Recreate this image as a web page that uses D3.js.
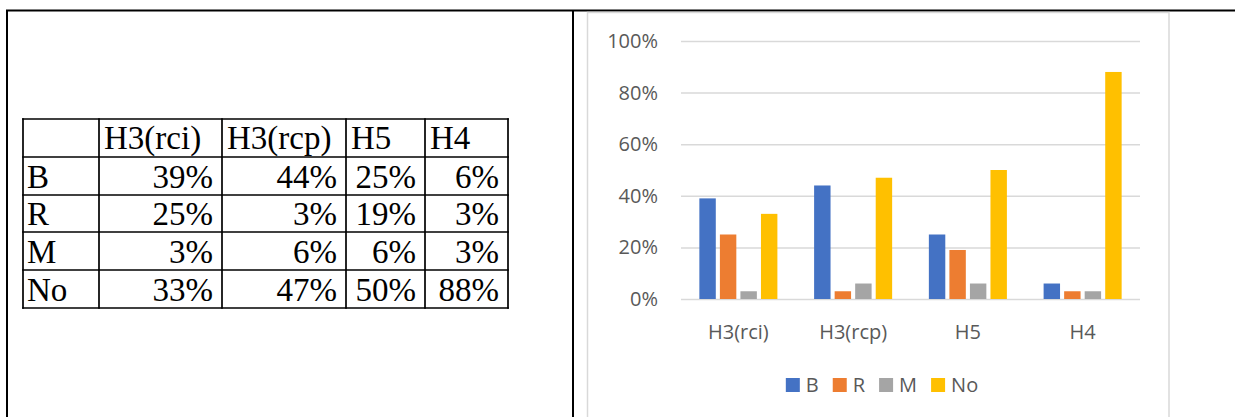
<!DOCTYPE html>
<html>
<head>
<meta charset="utf-8">
<script src="https://cdn.jsdelivr.net/npm/d3@7"></script>
<style>
  html, body { margin: 0; padding: 0; background: #fff; }
  svg { display: block; }
</style>
</head>
<body>
<svg id="page" width="1235" height="417"></svg>
<script>
// Categories, series and tick values
const categories = ["H3(rci)", "H3(rcp)", "H5", "H4"];
const seriesNames = ["B", "R", "M", "No"];
const valuesB  = [39, 44, 25, 6];
const valuesR  = [25, 3, 19, 3];
const valuesM  = [3, 6, 6, 3];
const valuesNo = [33, 47, 50, 88];
const yTicks = [0, 20, 40, 60, 80, 100];
const tickLabels = ["0%", "20%", "40%", "60%", "80%", "100%"];
const seriesColors = ["#4472C4", "#ED7D31", "#A5A5A5", "#FFC000"];

const seriesValues = [valuesB, valuesR, valuesM, valuesNo];
const rows = seriesNames.map((name, i) => ({ name, values: seriesValues[i], color: seriesColors[i] }));

const svg = d3.select("#page");

// ---- Outer two-cell layout frame ----
const frame = svg.append("g").attr("stroke", "#000").attr("stroke-width", 2);
frame.append("line").attr("x1", 6).attr("x2", 1235).attr("y1", 10.5).attr("y2", 10.5);
frame.append("line").attr("x1", 7).attr("x2", 7).attr("y1", 10).attr("y2", 417);
frame.append("line").attr("x1", 573).attr("x2", 573).attr("y1", 10).attr("y2", 417);

// ---- Data table (left cell) ----
const colEdges = [23, 99, 222, 346, 425, 508];
const rowEdges = [119, 157, 195, 232, 270, 308];
const table = svg.append("g")
  .attr("font-family", "'Liberation Serif', 'Times New Roman', serif")
  .attr("font-size", 33)
  .attr("fill", "#000");

const fmtPct = v => v + "%";
// header
categories.forEach((c, j) => {
  table.append("text")
    .attr("x", colEdges[j + 1] + 5)
    .attr("y", rowEdges[1] - 8)
    .text(c);
});
rows.forEach((r, i) => {
  const base = rowEdges[i + 2] - 7;
  table.append("text").attr("x", colEdges[0] + 4).attr("y", base).text(r.name);
  r.values.forEach((v, j) => {
    table.append("text")
      .attr("x", colEdges[j + 2] - 9)
      .attr("y", base)
      .attr("text-anchor", "end")
      .text(fmtPct(v));
  });
});
const grid = table.append("g").attr("stroke", "#000").attr("stroke-width", 1.7);
rowEdges.forEach(y => grid.append("line")
  .attr("x1", colEdges[0] - 0.85).attr("x2", colEdges[colEdges.length - 1] + 0.85)
  .attr("y1", y).attr("y2", y));
colEdges.forEach(x => grid.append("line")
  .attr("x1", x).attr("x2", x)
  .attr("y1", rowEdges[0] - 0.85).attr("y2", rowEdges[rowEdges.length - 1] + 0.85));

// ---- Chart area (right cell) ----
svg.append("rect")
  .attr("x", 587.5).attr("y", 12.5)
  .attr("width", 581.5).attr("height", 420)
  .attr("fill", "#fff")
  .attr("stroke", "#d9d9d9").attr("stroke-width", 1.5);

const plot = { left: 681, right: 1140, top: 41, bottom: 299 };

const y = d3.scaleLinear().domain([0, 100]).range([plot.bottom, plot.top]);
const x0 = d3.scaleBand().domain(categories).range([plot.left, plot.right]).padding(0);
const bw = x0.bandwidth();
const x1 = d3.scaleBand().domain(seriesNames)
  .range([bw * 0.16, bw * 0.84]).paddingInner(0.2).paddingOuter(0);

const chartFont = "'Open Sans', 'Liberation Sans', sans-serif";
const chartFontSize = 20;

// gridlines + y labels
const yAxis = d3.axisLeft(y)
  .tickValues(yTicks)
  .tickSize(-(plot.right - plot.left))
  .tickPadding(23)
  .tickFormat((d, i) => tickLabels[i]);
const yG = svg.append("g").attr("transform", `translate(${plot.left},0)`).call(yAxis);
yG.select(".domain").remove();
yG.selectAll(".tick line").attr("stroke", "#d9d9d9").attr("stroke-width", 1.5);
yG.selectAll(".tick text")
  .attr("font-family", chartFont).attr("font-size", chartFontSize)
  .attr("fill", "#595959");

// bars
const groups = svg.append("g").selectAll("g")
  .data(categories)
  .join("g")
  .attr("transform", c => `translate(${x0(c)},0)`);
groups.selectAll("rect")
  .data((c, j) => rows.map(r => ({ name: r.name, value: r.values[j], color: r.color })))
  .join("rect")
  .attr("x", d => x1(d.name))
  .attr("width", x1.bandwidth())
  .attr("y", d => y(d.value))
  .attr("height", d => y(0) - y(d.value))
  .attr("fill", d => d.color);

// category labels
const xAxis = d3.axisBottom(x0).tickSize(0).tickPadding(0);
const xG = svg.append("g").attr("transform", `translate(0,${plot.bottom})`).call(xAxis);
xG.select(".domain").remove();
xG.selectAll(".tick text")
  .attr("font-family", chartFont).attr("font-size", chartFontSize)
  .attr("fill", "#595959")
  .attr("dy", null)
  .attr("y", 40);

// legend
const legend = svg.append("g")
  .attr("font-family", chartFont).attr("font-size", chartFontSize).attr("fill", "#595959");
const sw = 14, gapText = 6, gapItem = 14;
let cx = 0;
rows.forEach(r => {
  const g = legend.append("g");
  g.append("rect").attr("width", sw).attr("height", sw).attr("y", 378).attr("fill", r.color);
  const t = g.append("text").attr("x", sw + gapText).attr("y", 392).text(r.name);
  const w = sw + gapText + t.node().getComputedTextLength();
  g.attr("transform", `translate(${cx},0)`);
  cx += w + gapItem;
});
const legendWidth = cx - gapItem;
legend.attr("transform", `translate(${882 - legendWidth / 2},0)`);
</script>
</body>
</html>
